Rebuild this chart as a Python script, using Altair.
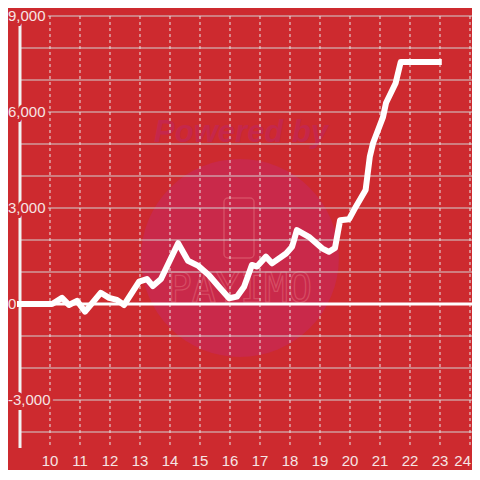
import altair as alt
import pandas as pd

# ---- data ----
hours = [8.9, 10.07, 10.4, 10.63, 10.9, 11.17, 11.69, 11.97, 12.23, 12.47, 12.97,
         13.23, 13.43, 13.7, 14.27, 14.6, 14.93, 15.3, 15.63, 15.97, 16.23, 16.47,
         16.73, 16.9, 17.2, 17.4, 17.87, 18.07, 18.23, 18.63, 19.07, 19.3, 19.5,
         19.67, 19.97, 20.2, 20.52, 20.66, 20.77, 21.1, 21.2, 21.52, 21.69, 23.06]
values = [0, 0, 190, -30, 100, -240, 350, 190, 130, -30, 700,
          780, 560, 780, 1900, 1350, 1200, 900, 540, 180, 230, 540,
          1220, 1170, 1480, 1270, 1580, 1790, 2310, 2100, 1740, 1630, 1750,
          2620, 2650, 3050, 3560, 4600, 5030, 5840, 6280, 6900, 7560, 7560]

y_grid = [-4000, -3000, -2000, -1000, 0, 1000, 2000, 3000, 4000, 5000, 6000, 7000, 8000, 9000]
y_labels = [-3000, 0, 3000, 6000, 9000]
y_label_text = ["-3,000", "0", "3,000", "6,000", "9,000"]
x_ticks = [10, 11, 12, 13, 14, 15, 16, 17, 18, 19, 20, 21, 22, 23, 24]

BG = "#cd2a2f"
TXT = "#f6e4e4"
X_DOM = [9, 24.067]
Y_DOM = [-4500, 9000]

line_df = pd.DataFrame({"h": hours, "v": values})
ygrid_df = pd.DataFrame({"v": y_grid})
ylab_df = pd.DataFrame({"v": y_labels, "t": y_label_text, "h": [9] * len(y_labels)})
xt_df = pd.DataFrame({"h": x_ticks[:-1], "v": [Y_DOM[0]] * (len(x_ticks) - 1),
                      "t": [str(t) for t in x_ticks[:-1]]})
xt_last = pd.DataFrame({"h": [x_ticks[-1]], "v": [Y_DOM[0]], "t": [str(x_ticks[-1])]})

xs = alt.Scale(domain=X_DOM, nice=False, zero=False)
ys = alt.Scale(domain=Y_DOM, nice=False, zero=False)
X = lambda f="h": alt.X(f"{f}:Q", scale=xs, axis=None)
Y = lambda f="v": alt.Y(f"{f}:Q", scale=ys, axis=None)

# watermark
wm_c = alt.Chart(pd.DataFrame({"h": [16.33], "v": [1440]})).mark_circle(
    size=39200, color="#c9294a", opacity=1).encode(x=X(), y=Y())
wm_t1 = alt.Chart(pd.DataFrame({"h": [16.37], "v": [5350]})).mark_text(
    text="Powered by", fontSize=31, fontWeight="bold", fontStyle="italic",
    font="Liberation Sans", color="#c5274b").encode(x=X(), y=Y())
wm_t2 = alt.Chart(pd.DataFrame({"h": [16.33], "v": [430]})).mark_text(
    text="PAYIMO", fontSize=40, font="DejaVu Sans Mono", fill="transparent",
    stroke="#d9566a", strokeWidth=1.2, opacity=0.8).encode(x=X(), y=Y())
wm_ph = alt.Chart(pd.DataFrame({"h": [15.8], "h2": [16.8], "v": [3310], "v2": [1440]})).mark_rect(
    filled=False, stroke="#d9566a", strokeWidth=1.5, cornerRadius=4, opacity=0.8).encode(
    x=X(), x2="h2", y=Y(), y2="v2")

hgrid = alt.Chart(ygrid_df).mark_rule(color="#d2d2d2", strokeWidth=1).encode(y=Y())
vgrid = alt.Chart(pd.DataFrame({"h": x_ticks})).mark_rule(
    color="#e8e8e8", strokeWidth=1, strokeDash=[3, 3]).encode(x=X())
zero = alt.Chart(pd.DataFrame({"v": [0]})).mark_rule(color="#ffffff", strokeWidth=3).encode(y=Y())
yaxis = alt.Chart(pd.DataFrame({"h": [9]})).mark_rule(color="#f2f2f2", strokeWidth=3).encode(x=X())

halo = alt.Chart(ylab_df).mark_text(
    align="left", baseline="middle", dx=-12, fontSize=15, font="Liberation Sans",
    fill=BG, stroke=BG, strokeWidth=6).encode(x=X(), y=Y(), text="t:N")
ylab = alt.Chart(ylab_df).mark_text(
    align="left", baseline="middle", dx=-12, fontSize=15, font="Liberation Sans",
    color=TXT).encode(x=X(), y=Y(), text="t:N")
xlab = alt.Chart(xt_df).mark_text(
    align="center", baseline="middle", dy=13, fontSize=15, font="Liberation Sans",
    color=TXT).encode(x=X(), y=Y(), text="t:N")
xlab_last = alt.Chart(xt_last).mark_text(
    align="right", baseline="middle", dy=13, dx=1, fontSize=15, font="Liberation Sans",
    color=TXT).encode(x=X(), y=Y(), text="t:N")

line = alt.Chart(line_df).mark_line(
    color="#ffffff", strokeWidth=6, strokeJoin="round", strokeCap="butt").encode(
    x=X(), y=Y(), order="h:Q")

chart = alt.layer(wm_c, wm_t1, wm_t2, wm_ph, hgrid, vgrid, zero, yaxis,
                  halo, ylab, xlab, xlab_last, line).properties(
    width=452, height=432, background=BG,
    padding={"left": 12, "top": 8, "right": 0, "bottom": 22},
    autosize=alt.AutoSizeParams(type="none"),
).configure_view(stroke=None)

chart.save("out.html", embed_options={"renderer": "svg", "actions": False})
